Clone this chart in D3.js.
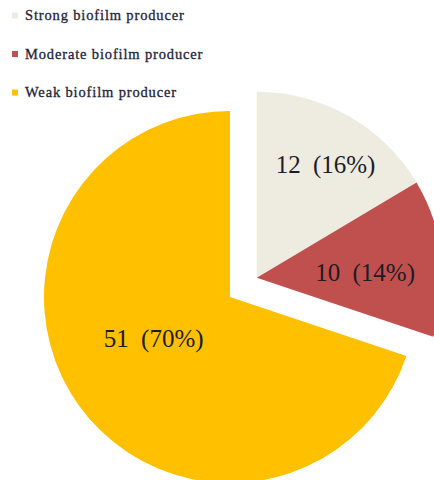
<!DOCTYPE html>
<html>
<head>
<meta charset="utf-8">
<script src="https://cdn.jsdelivr.net/npm/d3@7"></script>
<style>
  html, body { margin: 0; padding: 0; background: #ffffff; }
  svg { display: block; }
  .slice-label { font-family: "Liberation Serif", "Times New Roman", serif; font-size: 25px; word-spacing: 6px; fill: #1c1c28; }
  .legend-label { font-family: "Liberation Serif", "Times New Roman", serif; font-size: 14.5px; letter-spacing: 0.85px; fill: #1f2438; stroke: #1f2438; stroke-width: 0.3px; }
</style>
</head>
<body>
<div id="chart"></div>
<script>
// Biofilm production categories and isolate counts
const categories = ["Strong biofilm producer", "Moderate biofilm producer", "Weak biofilm producer"];
const counts = [12, 10, 51];
const percentLabels = ["16%", "14%", "70%"];
const colors = ["#EEECE1", "#C0504D", "#FFC000"];
// Slices pulled out of the pie as one group
const exploded = [true, true, false];

const width = 434, height = 480;
const cx = 230, cy = 297, radius = 186;
const explodeDist = 33;

// Label placement: radius for the anchor point, then a small per-slice nudge
const labelRadius = 115;
const labelShift = [[12, -13], [-6, 7], [17, -26]];

const svg = d3.select("#chart").append("svg")
  .attr("width", width)
  .attr("height", height);

const data = categories.map((c, i) => ({ name: c, value: counts[i], pct: percentLabels[i], color: colors[i], out: exploded[i], i }));

const pie = d3.pie().value(d => d.value).sort(null);
const arcs = pie(data);

const arc = d3.arc().innerRadius(0).outerRadius(radius);
const labelArc = d3.arc().innerRadius(labelRadius).outerRadius(labelRadius);

// Offset vector for the exploded group: along the middle of its combined angle
const outArcs = arcs.filter(a => a.data.out);
const gStart = d3.min(outArcs, a => a.startAngle);
const gEnd = d3.max(outArcs, a => a.endAngle);
const gMid = (gStart + gEnd) / 2;
const off = [explodeDist * Math.sin(gMid), -explodeDist * Math.cos(gMid)];

const pieG = svg.append("g").attr("transform", `translate(${cx},${cy})`);

const slice = pieG.selectAll("g.slice")
  .data(arcs)
  .join("g")
  .attr("class", "slice")
  .attr("transform", d => d.data.out ? `translate(${off[0]},${off[1]})` : null);

slice.append("path")
  .attr("d", arc)
  .attr("fill", d => d.data.color);

slice.append("text")
  .attr("class", "slice-label")
  .attr("transform", d => {
    const c = labelArc.centroid(d);
    const s = labelShift[d.data.i];
    return `translate(${c[0] + s[0]},${c[1] + s[1]})`;
  })
  .attr("text-anchor", "middle")
  .attr("dy", "0.35em")
  .text(d => `${d.data.value} (${d.data.pct})`);

// Legend
const legend = svg.append("g").attr("transform", "translate(12,0)");
const legendY = d3.scalePoint().domain(categories).range([15, 92]);

const item = legend.selectAll("g.item")
  .data(data)
  .join("g")
  .attr("class", "item")
  .attr("transform", d => `translate(0,${legendY(d.name)})`);

item.append("rect")
  .attr("x", 0).attr("y", -2.5)
  .attr("width", 6).attr("height", 6)
  .attr("fill", d => d.color);

item.append("text")
  .attr("class", "legend-label")
  .attr("x", 13)
  .attr("y", 5)
  .text(d => d.name);
</script>
</body>
</html>
